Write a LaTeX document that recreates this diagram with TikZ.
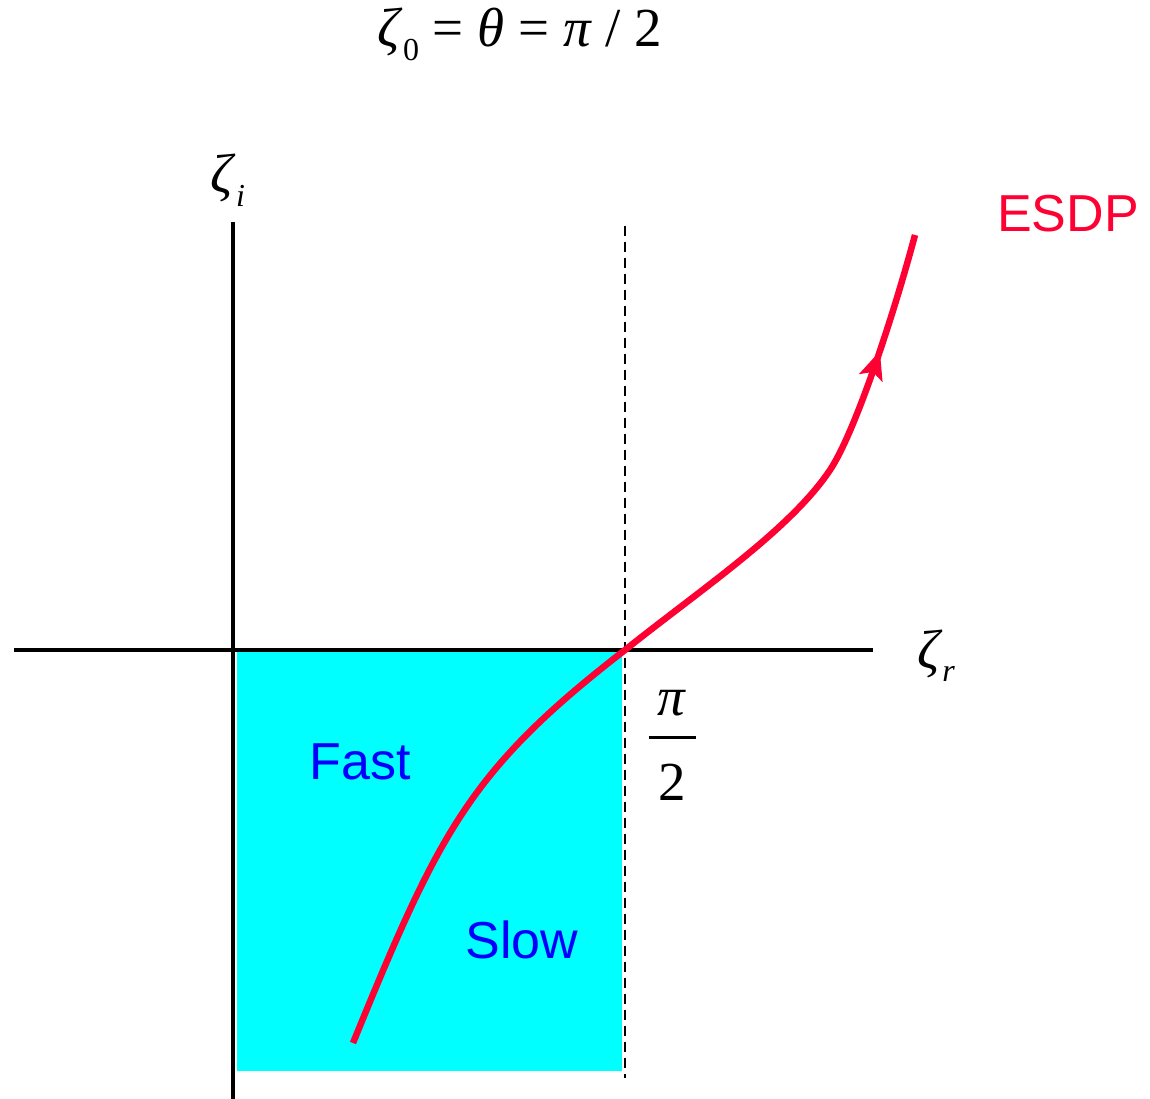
\documentclass[tikz,border=0pt]{standalone}
\usepackage{fontspec}
\setmainfont{Liberation Serif}
\setsansfont{Liberation Sans}
\usetikzlibrary{arrows.meta,decorations.markings}
\definecolor{esdp-red}{HTML}{FF0033}
\definecolor{region-cyan}{HTML}{00FFFF}
\definecolor{label-blue}{HTML}{0000FF}
\newcommand{\lowsub}[2][-0.25em]{\raisebox{#1}{\fontsize{32}{34}\selectfont #2}}

\begin{document}
\begin{tikzpicture}[x=1pt, y=-1pt,
    every node/.style={inner sep=0pt},
    mathlbl/.style={font=\fontsize{55}{50}\selectfont},
    sanslbl/.style={font=\sffamily\fontsize{52}{56}\selectfont}]
  \useasboundingbox (0,0) rectangle (1150,1099);
  % region below the real axis
  \fill[region-cyan] (237,652) rectangle (622,1071);
  % axes
  \coordinate (xLeft) at (14,650);
  \coordinate (xRight) at (873,650);
  \coordinate (yTop) at (233,222);
  \coordinate (yBot) at (233,1099);
  \coordinate (halfTop) at (625,226);
  \coordinate (halfBot) at (625,1078);
  \draw[line width=3.2pt] (xLeft) -- (xRight);
  \draw[line width=3.2pt] (yTop) -- (yBot);
  \draw[line width=2pt, dash pattern=on 10pt off 6pt] (halfTop) -- (halfBot);
  % labels
  \node[mathlbl, anchor=base] (Title) at (520,47)
    {\textit{ζ}\lowsub{0} = \textit{θ} = \textit{π} / 2};
  \node[mathlbl, anchor=base] (ZetaI) at (228,193)
    {\textit{ζ}\lowsub{\textit{i}}};
  \node[mathlbl, anchor=base] (ZetaR) at (936,668)
    {\textit{ζ}\lowsub{\textit{r}}};
  \node[mathlbl, align=center, anchor=north] (HalfPi) at (672,690)
    {\textit{π}\\[-26pt]\rule{47pt}{3pt}\\[11pt]2};
  \node[sanslbl, label-blue, anchor=base] (Fast) at (360,779) {Fast};
  \node[sanslbl, label-blue, anchor=base] (Slow) at (522,958) {Slow};
  \node[sanslbl, esdp-red, anchor=base] (ESDP) at (1068,232) {ESDP};
  % steepest descent path
  \draw[esdp-red, line width=6.5pt, postaction={decorate},
    decoration={markings, mark=at position 0.88 with
      {\arrow{Stealth[length=28pt, width=24pt, inset=6pt]}}}]
    (353,1043) .. controls (440,830) and (470,770) .. (625,650)
    .. controls (700,590) and (790,530) .. (830,470)
    .. controls (856,431) and (895,310) .. (915,235);
\end{tikzpicture}
\end{document}
